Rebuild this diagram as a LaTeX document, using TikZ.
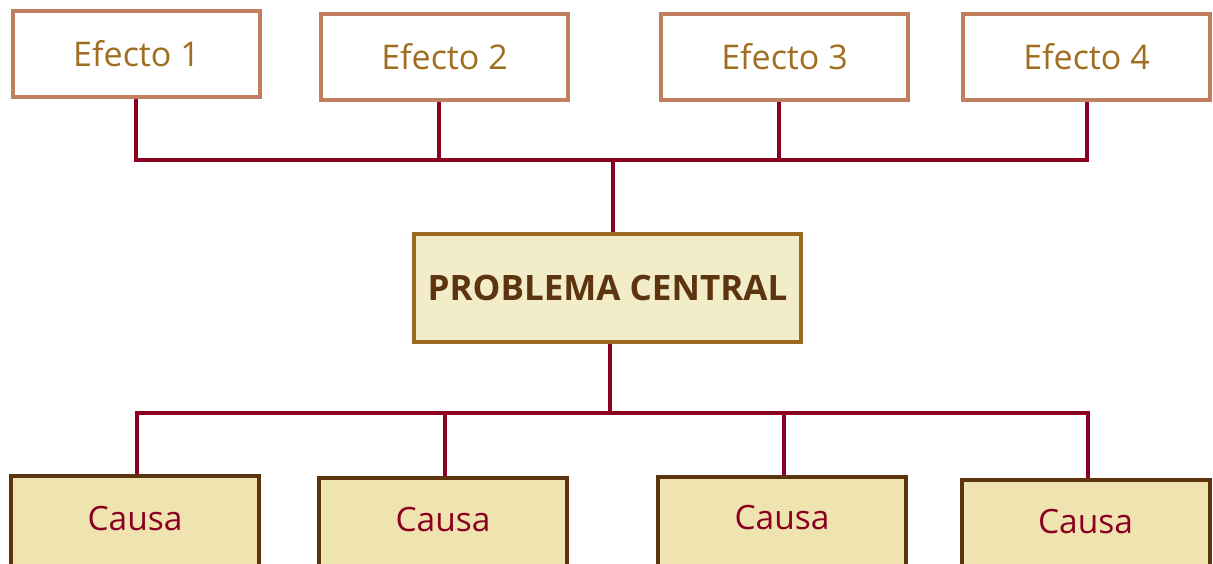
\documentclass[tikz,border=0pt]{standalone}
\usepackage{fontspec}
\setmainfont{Open Sans}
\definecolor{effborder}{HTML}{C08060}
\definecolor{efftext}{HTML}{A06E20}
\definecolor{linkred}{HTML}{8B0020}
\definecolor{probfill}{HTML}{F3ECC8}
\definecolor{probborder}{HTML}{9A6A20}
\definecolor{probtext}{HTML}{5C3510}
\definecolor{causefill}{HTML}{EFE3B0}
\definecolor{causeborder}{HTML}{5C3510}
\begin{document}
\begin{tikzpicture}[x=1pt,y=-1pt,
  effbox/.style={draw=effborder,line width=4pt,fill=white,minimum width=247pt,minimum height=86pt,inner sep=0pt,text=efftext,font=\fontsize{34}{38}\selectfont},
  causebox/.style={draw=causeborder,line width=4pt,fill=causefill,minimum width=248pt,minimum height=120pt,inner sep=0pt},
  causetext/.style={text=linkred,font=\fontsize{33.5}{38}\selectfont},
  probbox/.style={draw=probborder,line width=4pt,fill=probfill,minimum width=387pt,minimum height=108pt,inner sep=0pt,text=probtext,font=\bfseries\fontsize{35}{40}\selectfont},
  link/.style={draw=linkred,line width=4.5pt},
  linkb/.style={draw=linkred,line width=3.8pt}]
\useasboundingbox (0,0) rectangle (1213,564);
\clip (0,0) rectangle (1213,564);
\node[effbox] (e1) at (136.5,54) {Efecto 1};
\node[effbox] (e2) at (444.5,57) {Efecto 2};
\node[effbox] (e3) at (784.5,57) {Efecto 3};
\node[effbox] (e4) at (1086.5,57) {Efecto 4};
\node[probbox] (p) at (607.5,288) {PROBLEMA CENTRAL};
\coordinate (tl) at (136,160);
\coordinate (tr) at (1087,160);
\coordinate (tm) at (613,160);
\coordinate (bl) at (137,413);
\coordinate (br) at (1088,413);
\coordinate (bm) at (610,413);
\node[causebox,anchor=north] (c1) at (135,474) {};
\node[causebox,anchor=north] (c2) at (443,476) {};
\node[causebox,anchor=north] (c3) at (782,475) {};
\node[causebox,anchor=north] (c4) at (1085.5,478) {};
\node[causetext] (t1) at (135,519) {Causa};
\node[causetext] (t2) at (443,520) {Causa};
\node[causetext] (t3) at (782,518) {Causa};
\node[causetext] (t4) at (1085.5,522) {Causa};
% top connectors
\draw[link] (e1.south -| tl) -- (tl) -- (tr) -- (e4.south -| tr);
\draw[link] (e2.south -| 439,0) -- (439,160);
\draw[link] (e3.south -| 779,0) -- (779,160);
\draw[link] (tm) -- (p.north -| tm);
% bottom connectors
\draw[linkb] (p.south -| bm) -- (bm);
\draw[linkb] (c1.north -| bl) -- (bl) -- (br) -- (c4.north -| br);
\draw[linkb] (445,413) -- (c2.north -| 445,0);
\draw[linkb] (784,413) -- (c3.north -| 784,0);
\end{tikzpicture}
\end{document}
